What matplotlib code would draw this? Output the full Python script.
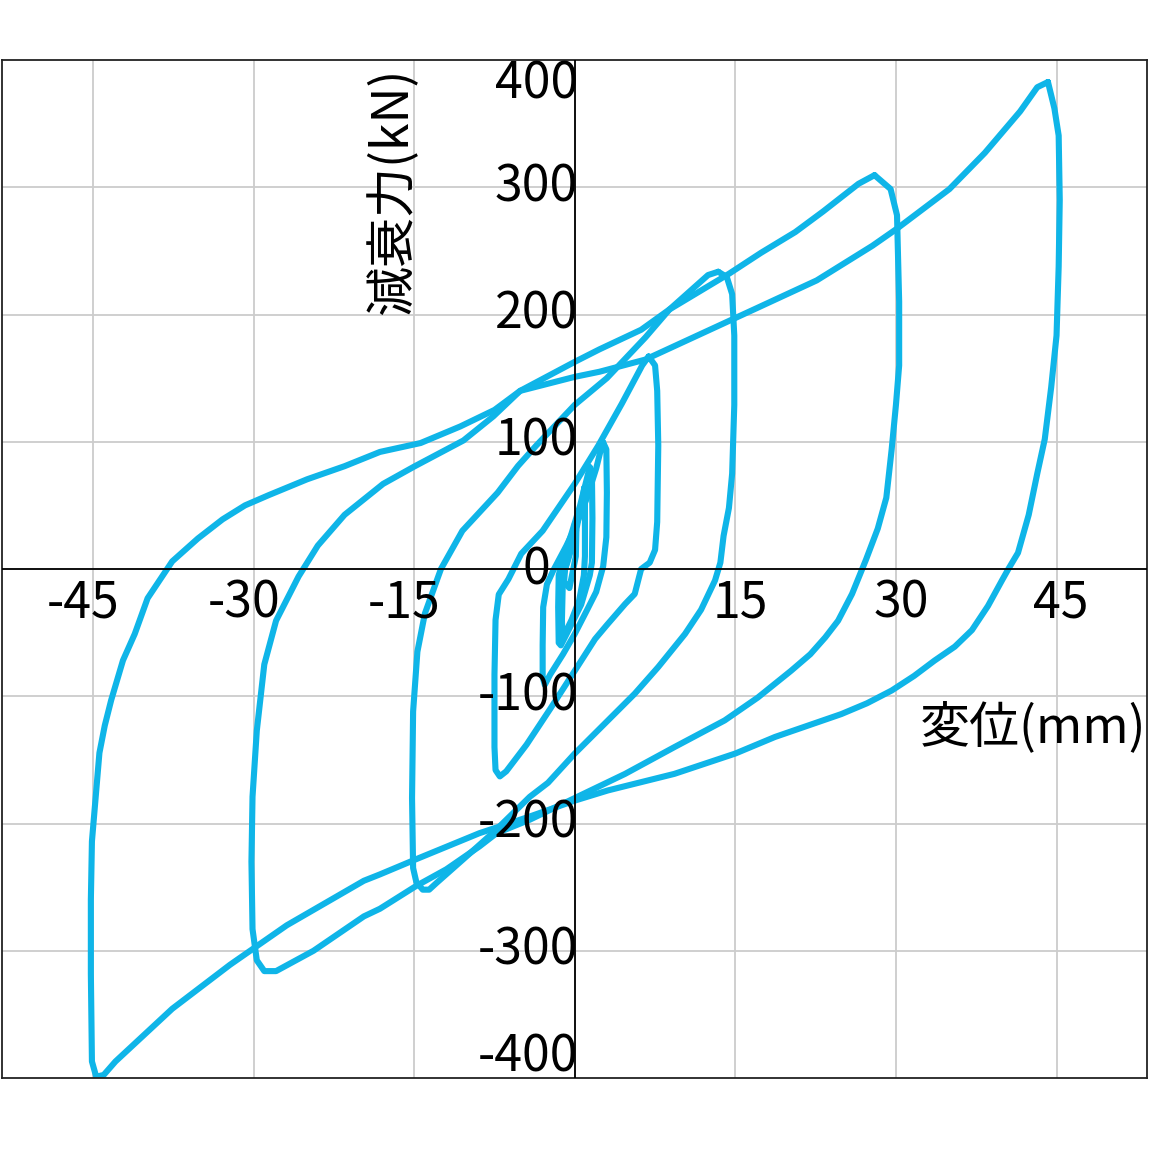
import matplotlib
matplotlib.use("Agg")
import matplotlib.pyplot as plt

plt.rcParams['font.family'] = ['Noto Sans CJK JP', 'DejaVu Sans']

# ---- data (displacement mm, damping force kN) ----
loop0_x = [0.0, 0.15, 0.1, -0.5, -1.0, -0.9, -0.3, 0.0]
loop0_y = [35, 30, 10, -15, -10, 0, 20, 35]

loopA_x = [0.9, 0.95, 0.95, 0.85, 0.4, -0.3, -1.0, -1.15, -1.2, -1.1, -0.7, 0.0, 0.6, 0.85, 0.9]
loopA_y = [64, 55, 10, -5, -25, -40, -52, -56, -40, -5, 5, 25, 50, 62, 64]

loopB_x = [1.4, 1.6, 1.65, 1.6, 1.4, 0.6, -0.4, -1.3, -1.5, -1.55, -1.5, -1.2, -0.3, 0.5, 1.1, 1.4]
loopB_y = [80, 76, 40, 5, -5, -28, -45, -60, -58, -30, -5, 5, 28, 50, 70, 80]

loopC_x = [2.65, 2.95, 3.0, 2.95, 2.65, 2.0, 1.1, 0.0, -1.1, -2.3, -2.8, -3.0, -3.0, -2.95, -2.6,
           -2.0, -0.8, 0.0, 1.1, 2.0, 2.5, 2.65]
loopC_y = [99.5, 94, 60, 25, 2, -18, -33, -51, -67, -83, -91, -85, -60, -30, -12,
           -1, 18, 32, 55, 79, 96, 99.5]

loopD_x = [6.9, 7.5, 7.7, 7.8, 7.7, 7.5, 7.0, 6.2, 5.6, 4.7, 3.0, 1.9, 0.0, -2.3, -4.5, -6.4,
           -7.0, -7.4, -7.5, -7.5, -7.4, -7.1, -6.2, -5.0, -3.0, 0.0, 2.2, 4.4, 6.3, 6.9]
loopD_y = [167, 160, 140, 97, 37, 15, 5, 0, -19.6, -27.5, -44, -55, -80, -110, -138, -159,
           -163, -158, -140, -83, -40, -20, -8, 12, 30, 67, 97, 130, 160, 167]

loopE_x = [13.4, 14.2, 14.7, 14.9, 14.9, 14.7, 14.4, 13.9, 13.6, 13.1, 11.8, 10.3, 7.8, 5.6,
           3.1, 0.0, -2.5, -4.2, -7.6, -10.4, -12.9, -13.6, -14.2, -14.8, -15.1, -15.2, -15.1,
           -14.7, -14.0, -12.5, -10.5, -7.2, -5.3, -3.6, 0.0, 3.0, 6.6, 8.85, 12.45, 13.4]
loopE_y = [233.6, 229.5, 216, 183.5, 129, 75, 48, 26, 5, -9, -32, -51, -77, -98,
           -119, -145, -168, -179, -207, -228, -246.6, -252, -252, -246, -235, -180, -112,
           -65, -35, 0, 30, 60, 81, 97, 129, 150, 182, 204, 231, 233.6]

loopF_x = [28.0, 29.5, 30.1, 30.3, 30.3, 30.0, 29.6, 29.1, 28.3, 27.2, 25.9, 24.6, 23.4, 22.0,
           20.2, 17.1, 14.0, 9.3, 4.7, 0.0, -4.2, -7.3, -8.9, -12.0, -14.8, -18.2, -19.7, -24.4,
           -27.9, -29.0, -29.7, -30.1, -30.2, -30.1, -29.7, -29.0, -27.9, -25.8, -24.0, -21.5,
           -17.9, -15.0, -10.4, -7.6, -5.1, 0.0, 2.3, 6.2, 8.85, 14.4, 17.4, 20.6, 23.2, 26.5, 28.0]
loopF_y = [309.5, 298.6, 278, 210, 160, 129, 94, 56, 31.7, 7.3, -19.6, -40.6, -53.7, -67,
           -80, -101, -119, -140, -161, -180, -197, -207.6, -218, -236, -249, -267, -273, -300,
           -316, -316, -307.5, -283, -230, -179, -127, -75, -40.6, -5.9, 18.4, 42.6,
           66.9, 80.5, 101, 120, 140, 162.8, 172.6, 188, 204, 232, 248.5, 264.8, 281, 302.7, 309.5]

loopG_x = [44.2, 44.8, 45.2, 45.3, 45.2, 45.0, 44.5, 43.9, 43.2, 42.4, 41.4, 40.5, 39.9, 38.6,
           37.1, 35.5, 33.6, 31.7, 29.6, 27.3, 24.9, 18.7, 15.0, 9.3, 3.1, 0.0, -4.2, -8.9,
           -14.8, -18.2, -19.7, -26.9, -32.2, -37.6, -42.9, -44.0, -44.7, -45.1, -45.2, -45.2,
           -45.1, -44.4, -43.9, -43.3, -42.2, -41.1, -39.9, -37.6, -35.2, -32.9, -30.8, -28.6,
           -25.0, -21.5, -18.2, -14.4, -10.7, -7.5, -5.1, 0.0, 2.3, 6.56, 12.1, 17.0, 22.6,
           27.8, 30.1, 35.0, 38.3, 41.6, 43.2, 44.2]
loopG_y = [382.7, 362, 340.6, 290, 237.7, 183.5, 142.8, 102, 75, 42.5, 12.7, 0, -9, -29,
           -48, -61, -72, -84, -95.5, -105.5, -114, -132, -145, -161, -174, -182, -194.5, -207.6,
           -228, -240, -245, -280, -311, -345.6, -387, -397.6, -399, -387, -318, -260,
           -214, -144.5, -123, -103, -71.8, -51, -23, 6, 24, 39, 50, 58,
           70.5, 80.8, 92, 99, 112, 125, 140, 151, 155, 164.5, 186, 205, 226.8,
           254, 267.5, 298.6, 327, 359.6, 378.6, 382.7]

xtick_values = [-45, -30, -15, 15, 30, 45]
ytick_values = [400, 300, 200, 100, -100, -200, -300, -400]
zero_label = "0"
xlabel = "変位(mm)"
ylabel = "減衰力(kN)"

loops = [(loop0_x, loop0_y), (loopA_x, loopA_y), (loopB_x, loopB_y), (loopC_x, loopC_y),
         (loopD_x, loopD_y), (loopE_x, loopE_y), (loopF_x, loopF_y), (loopG_x, loopG_y)]

# ---- figure ----
W = 1149
fig = plt.figure(figsize=(W / 100, W / 100), dpi=100)
ax = fig.add_axes([2 / W, (W - 1078) / W, 1145 / W, 1018 / W])
ax.set_xlim(-53.5, 53.45)
ax.set_ylim(-400, 400)

for v in [-45, -30, -15, 0, 15, 30, 45]:
    ax.axvline(v, color='#cccccc', lw=1.3, zorder=0)
for v in [-300, -200, -100, 0, 100, 200, 300]:
    ax.axhline(v, color='#cccccc', lw=1.3, zorder=0)

blue = '#0fb5e8'
for lx, ly in loops:
    ax.plot(lx, ly, color=blue, lw=4.4, solid_joinstyle='round', solid_capstyle='round', zorder=2)

ax.axhline(0, color='black', lw=1.3, zorder=3)
ax.axvline(0, color='black', lw=1.3, zorder=3)

for s in ax.spines.values():
    s.set_color('#222222')
    s.set_linewidth(1.3)
ax.set_xticks([])
ax.set_yticks([])

fs = 36
xoff = {-45: -0.9, -30: -0.9, -15: -0.9, 15: 0.5, 30: 0.5, 45: 0.4}
for v in xtick_values:
    ax.text(v + xoff[v], -27.5, f"{v}", ha='center', va='center', fontsize=fs, zorder=4)
ypos = {400: 381, -400: -384}
for v in ytick_values:
    ax.text(0.3, ypos.get(v, v), f"{v}", ha='right', va='center', fontsize=fs, zorder=4)
ax.text(-2.3, -1.5, zero_label, ha='right', va='center', fontsize=fs, zorder=4)

ax.text(42.8, -125, xlabel, ha='center', va='center', fontsize=fs, zorder=4)
ax.text(-17.0, 297, ylabel, ha='center', va='center', rotation=90, fontsize=fs, zorder=4)

fig.savefig("out.png", dpi=100)
